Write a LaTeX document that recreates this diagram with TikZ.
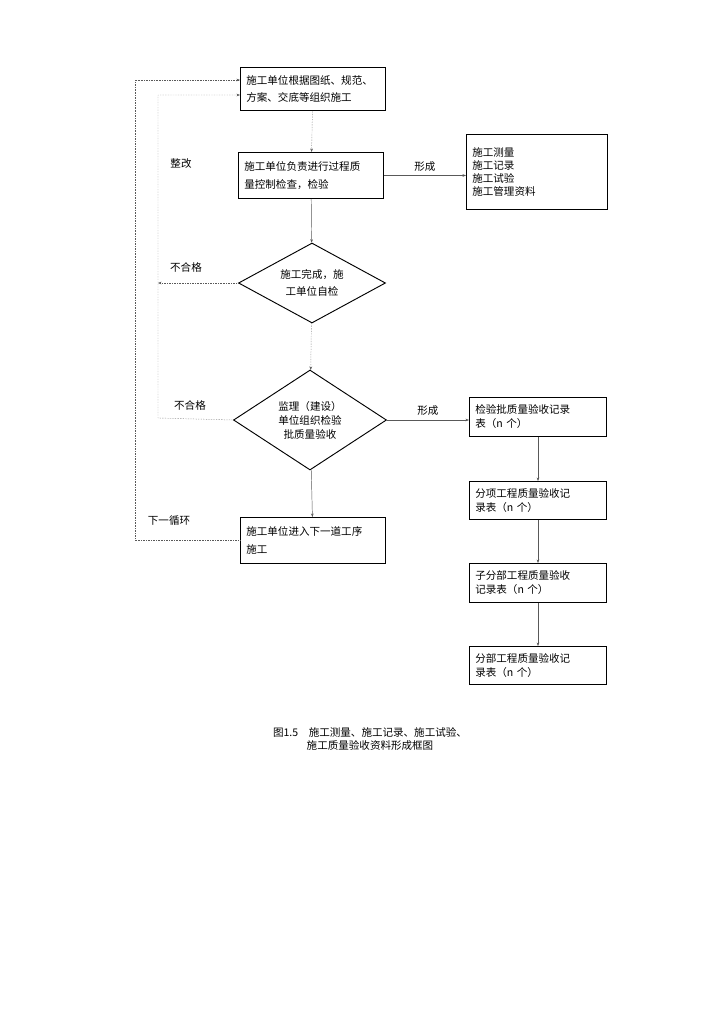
\documentclass[tikz,border=0pt]{standalone}
\usepackage{fontspec}
\setmainfont{Noto Sans CJK SC}
\usetikzlibrary{shapes.geometric,arrows.meta}
\tikzstyle{stepbox} = [draw, thick, rectangle, align=left, anchor=north west, inner xsep=5pt, inner ysep=3pt]
\tikzstyle{checknode} = [draw, thick, diamond, aspect=1.85, align=center, inner sep=1pt]
\tikzstyle{flow} = [draw, -{Stealth[length=3pt]}, gray!70!black]
\tikzstyle{back} = [draw, densely dotted, gray!70!black]
\begin{document}
\begin{tikzpicture}[x=0.03cm, y=-0.03cm, font=\fontsize{9}{15}\selectfont]
\useasboundingbox (0,0) rectangle (722,1024);
% main column
\node [stepbox, text width=4.0cm, minimum height=1.29cm] at (240,67) (plan) {施工单位根据图纸、规范、\\方案、交底等组织施工};
\node [stepbox, text width=4.0cm, minimum height=1.38cm] at (238,152) (self) {施工单位负责进行过程质\\量控制检查，检验};
\node [stepbox, text width=3.88cm, minimum height=2.25cm, font=\fontsize{9}{11}\selectfont] at (466,134) (data) {施工测量\\施工记录\\施工试验\\施工管理资料};
\node [checknode, minimum width=4.41cm, minimum height=2.4cm] at (312,283) (done) {施工完成，施\\工单位自检};
\node [checknode, minimum width=4.59cm, minimum height=3.0cm, font=\fontsize{9}{12}\selectfont] at (310,420) (super) {监理（建设）\\单位组织检验\\批质量验收};
\node [stepbox, text width=4.0cm, minimum height=1.38cm] at (240,517) (next) {施工单位进入下一道工序\\施工};
% right column
\node [stepbox, text width=3.76cm, minimum height=1.17cm, font=\fontsize{9}{12}\selectfont] at (469,397) (lot) {检验批质量验收记录\\表（n 个）};
\node [stepbox, text width=3.76cm, minimum height=1.14cm, font=\fontsize{9}{12}\selectfont] at (469,481) (item) {分项工程质量验收记\\录表（n 个）};
\node [stepbox, text width=3.76cm, minimum height=1.17cm, font=\fontsize{9}{12}\selectfont] at (469,563) (subpart) {子分部工程质量验收\\记录表（n 个）};
\node [stepbox, text width=3.76cm, minimum height=1.14cm, font=\fontsize{9}{12}\selectfont] at (469,646) (part) {分部工程质量验收记\\录表（n 个）};
% loop corners
\coordinate (o1) at (135,80);
\coordinate (o2) at (135,540);
\coordinate (i1) at (158,95);
\coordinate (i2) at (158,418);
\coordinate (i3) at (158,283);
% connectors
\path [back, -{Stealth[length=3pt]}] (plan) -- (self);
\path [flow] (self) -- (done);
\path [back, -{Stealth[length=3pt]}] (done) -- (super);
\path [flow] (super) -- (next);
\path [flow] (self.east) -- node[above, black] {形成} (data.west |- self.east);
\path [flow] (super.east) -- node[above, black] {形成} (lot.west |- super.east);
\path [flow] (lot) -- (item);
\path [flow] (item) -- (subpart);
\path [flow] (subpart) -- (part);
\path [back, -{Stealth[length=3pt]}] (done.west) -- (i3);
\path [back, -{Stealth[length=3pt]}] (super.west) -- (i2) -- (i1) -- (plan.west |- i1);
\path [back, -{Stealth[length=3pt]}] (next.west |- o2) -- (o2) -- (o1) -- (plan.west |- o1);
% labels
\node at (181,164) (l1) {整改};
\node at (186,267) (l2) {不合格};
\node at (190,405) (l3) {不合格};
\node at (169,521) (l4) {下一循环};
\node [align=center, font=\fontsize{9}{11}\selectfont] at (370,739) (cap) {图1.5\quad 施工测量、施工记录、施工试验、\\施工质量验收资料形成框图};
\end{tikzpicture}
\end{document}
